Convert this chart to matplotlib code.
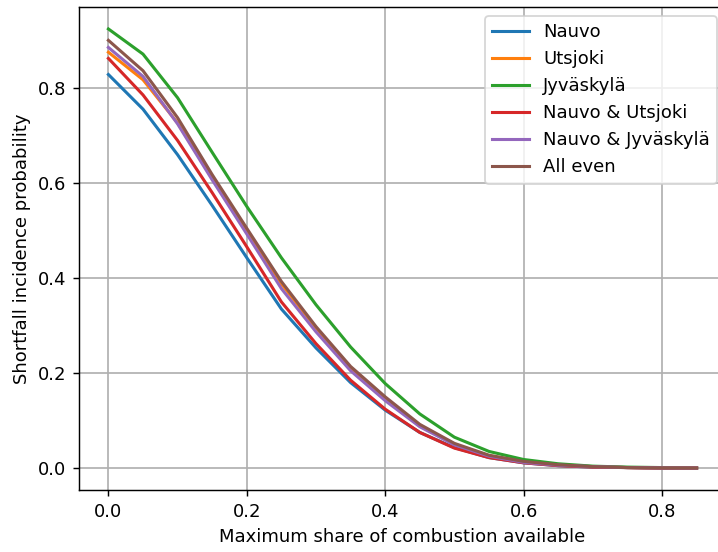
import matplotlib
matplotlib.use("Agg")
import matplotlib.pyplot as plt
import numpy as np

x = [0.0, 0.05, 0.1, 0.15, 0.2, 0.25, 0.3, 0.35, 0.4, 0.45, 0.5, 0.55, 0.6, 0.65, 0.7, 0.75, 0.8, 0.85]

nauvo = [0.829, 0.756, 0.660, 0.553, 0.443, 0.335, 0.253, 0.180, 0.122, 0.075, 0.043, 0.022, 0.011, 0.005, 0.002, 0.001, 0.0, 0.0]
utsjoki = [0.876, 0.818, 0.727, 0.612, 0.500, 0.388, 0.295, 0.210, 0.145, 0.090, 0.050, 0.026, 0.013, 0.006, 0.003, 0.001, 0.0, 0.0]
jyvaskyla = [0.925, 0.872, 0.780, 0.665, 0.551, 0.443, 0.344, 0.255, 0.178, 0.114, 0.065, 0.035, 0.018, 0.009, 0.004, 0.002, 0.001, 0.0]
nauvo_utsjoki = [0.863, 0.786, 0.690, 0.580, 0.466, 0.350, 0.262, 0.185, 0.124, 0.075, 0.042, 0.022, 0.011, 0.005, 0.002, 0.001, 0.0, 0.0]
nauvo_jyvaskyla = [0.886, 0.825, 0.725, 0.607, 0.493, 0.378, 0.287, 0.205, 0.142, 0.087, 0.049, 0.025, 0.012, 0.006, 0.003, 0.001, 0.0, 0.0]
all_even = [0.901, 0.837, 0.738, 0.618, 0.505, 0.393, 0.298, 0.214, 0.150, 0.092, 0.052, 0.027, 0.014, 0.007, 0.003, 0.001, 0.0, 0.0]

labels = ["Nauvo", "Utsjoki", "Jyväskylä", "Nauvo & Utsjoki", "Nauvo & Jyväskylä", "All even"]
series = [nauvo, utsjoki, jyvaskyla, nauvo_utsjoki, nauvo_jyvaskyla, all_even]

dpi = 130
fig = plt.figure(figsize=(718 / dpi, 552 / dpi), dpi=dpi)
ax = fig.add_axes([79 / 718, (552 - 490) / 552, (726 - 79) / 718, (490 - 7) / 552])

for s, lab in zip(series, labels):
    ax.plot(x, s, label=lab, linewidth=1.7)

ax.grid(True, linewidth=0.95)
ax.spines["right"].set_visible(False)
ax.set_xlabel("Maximum share of combustion available")
ax.set_ylabel("Shortfall incidence probability")
ax.legend(loc="upper right")

fig.savefig("out.png", dpi=dpi)
